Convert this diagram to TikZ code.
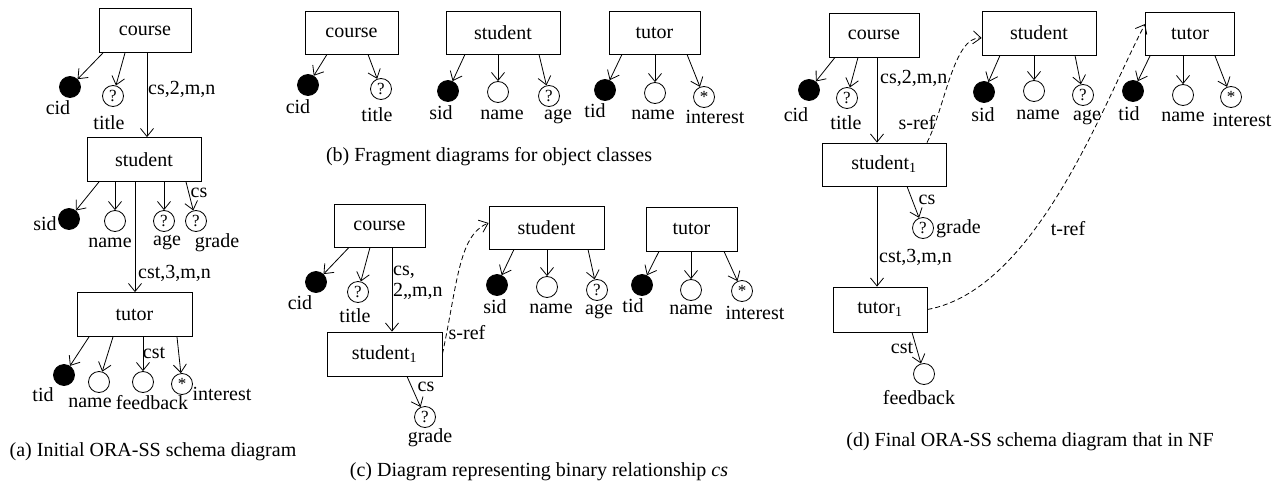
\documentclass[tikz,border=0pt]{standalone}
\usepackage{fontspec}
\setmainfont{Liberation Serif}
\usetikzlibrary{arrows.meta}
\newcommand\fs{\fontsize{20}{21}\selectfont}
\tikzset{
  every node/.style={font=\fs},
  cls/.style={draw, line width=0.8pt, minimum height=44pt, inner sep=0pt},
  att/.style={circle, draw, line width=0.8pt, minimum size=21pt, inner sep=0pt, font=\fontsize{17}{17}\selectfont},
  key/.style={att, fill=black},
  lbl/.style={inner sep=0pt},
  arr/.style={line width=0.8pt, -{Straight Barb[length=8pt,width=13pt]}},
  refarr/.style={line width=0.8pt, dashed, dash pattern=on 5pt off 3pt, -{Straight Barb[length=8pt,width=13pt]}},
}
\newcommand\st{\raisebox{-5pt}{*}}
\begin{document}
\begin{tikzpicture}[x=1pt,y=-1pt]
\useasboundingbox (0,0) rectangle (1284,487);
% ---------------- (a)
\node[cls, minimum width=92pt] (courseA) at (145,30.5) {course};
\node[key] (cidA) at (70,87) {};
\node[att] (titleA) at (113,96) {?};
\node[lbl] (cidAl) at (58,108) {cid};
\node[lbl] (titleAl) at (109,123) {title};
\node[cls, minimum width=114pt] (studentA) at (144,159.5) {student};
\node[lbl, anchor=west] (csA) at (148,89) {cs,2,m,n};
\draw[arr] ([xshift=-42pt]courseA.south) -- (cidA);
\draw[arr] ([xshift=-20pt]courseA.south) -- (titleA);
\draw[arr] ([xshift=2pt]courseA.south) -- ([xshift=3pt]studentA.north);
\node[key] (sidA) at (69,219) {};
\node[att] (nameA) at (115,221) {};
\node[att] (ageA) at (164,221) {?};
\node[att] (gradeA) at (196,221) {?};
\node[lbl] (sidAl) at (45,224) {sid};
\node[lbl] (nameAl) at (110,243) {name};
\node[lbl] (ageAl) at (167,243) {age};
\node[lbl] (gradeAl) at (217,243) {grade};
\node[lbl] (csA2) at (199,193) {cs};
\draw[arr] ([xshift=-45pt]studentA.south) -- (sidA);
\draw[arr] ([xshift=-29pt]studentA.south) -- (nameA);
\draw[arr] ([xshift=20pt]studentA.south) -- (ageA);
\draw[arr] ([xshift=42pt]studentA.south) -- (gradeA);
\node[cls, minimum width=115pt] (tutorA) at (134.5,314.5) {tutor};
\node[lbl, anchor=west] (cstA) at (138,273) {cst,3,m,n};
\draw[arr] ([xshift=-9pt]studentA.south) -- ([xshift=0.5pt]tutorA.north);
\node[key] (tidA) at (64,375) {};
\node[att] (nameA2) at (99,382) {};
\node[att] (fbA) at (143,382) {};
\node[att] (intA) at (182,384) {\st};
\node[lbl] (tidAl) at (43,395) {tid};
\node[lbl] (nameA2l) at (90,403) {name};
\node[lbl] (fbAl) at (152,403) {feedback};
\node[lbl] (intAl) at (222,394) {interest};
\node[lbl] (cstA2) at (154,353) {cst};
\draw[arr] ([xshift=-45.5pt]tutorA.south) -- (tidA);
\draw[arr] ([xshift=-21.5pt]tutorA.south) -- (nameA2);
\draw[arr] ([xshift=8.5pt]tutorA.south) -- (fbA);
\draw[arr] ([xshift=42.5pt]tutorA.south) -- (intA);
\node[lbl] (capA) at (153,452) {(a) Initial ORA-SS schema diagram};
% ---------------- (b)
\node[cls, minimum width=93pt, minimum height=43pt] (courseB) at (351.5,32.5) {course};
\node[key] (cidB) at (308,85) {};
\node[att] (titleB) at (381,89) {?};
\node[lbl] (cidBl) at (298,107) {cid};
\node[lbl] (titleBl) at (377,115) {title};
\draw[arr] ([xshift=-24.5pt]courseB.south) -- (cidB);
\draw[arr] ([xshift=16.5pt]courseB.south) -- (titleB);
\node[cls, minimum width=114pt, minimum height=43pt] (studentB) at (503,32.5) {student};
\node[key] (sidB) at (448,91) {};
\node[att] (nameB) at (498,92) {};
\node[att] (ageB) at (549,96) {?};
\node[lbl] (sidBl) at (441,113) {sid};
\node[lbl] (nameBl) at (502,115) {name};
\node[lbl] (ageBl) at (558,117) {age};
\draw[arr] ([xshift=-38pt]studentB.south) -- (sidB);
\draw[arr] ([xshift=-5pt]studentB.south) -- (nameB);
\draw[arr] ([xshift=36pt]studentB.south) -- (ageB);
\node[cls, minimum width=91pt, minimum height=43pt] (tutorB) at (654.5,32.5) {tutor};
\node[key] (tidB) at (605,90) {};
\node[att] (nameB2) at (655,93) {};
\node[att] (intB) at (704,97) {\st};
\node[lbl] (tidBl) at (595,111) {tid};
\node[lbl] (nameB2l) at (653,115) {name};
\node[lbl] (intBl) at (715,117) {interest};
\draw[arr] ([xshift=-32.5pt]tutorB.south) -- (tidB);
\draw[arr] ([xshift=0.5pt]tutorB.south) -- (nameB2);
\draw[arr] ([xshift=32.5pt]tutorB.south) -- (intB);
\node[lbl] (capB) at (489,157) {(b) Fragment diagrams for object classes};
% ---------------- (c)
\node[cls, minimum width=91pt, minimum height=43pt] (courseC) at (379.5,225.5) {course};
\node[key] (cidC) at (316,282) {};
\node[att] (titleC) at (358,292) {?};
\node[lbl] (cidCl) at (300,303) {cid};
\node[lbl] (titleCl) at (355,316) {title};
\draw[arr] ([xshift=-30.5pt]courseC.south) -- (cidC);
\draw[arr] ([xshift=-9.5pt]courseC.south) -- (titleC);
\node[cls, minimum width=115pt] (s1C) at (384.5,354) {student\textsubscript{1}};
\node[lbl, anchor=west, align=left] (csC) at (393,283) {cs,\\2,,m,n};
\draw[arr] ([xshift=12.5pt]courseC.south) -- ([xshift=7.5pt]s1C.north);
\node[att] (gradeC) at (425,417) {?};
\node[lbl] (csC2) at (426,387) {cs};
\node[lbl] (gradeCl) at (430,438) {grade};
\draw[arr] ([xshift=22.5pt]s1C.south) -- (gradeC);
\node[cls, minimum width=115pt, minimum height=43pt] (studentC) at (546.5,227.5) {student};
\draw[refarr] (s1C.east) .. controls +(15,-70) and +(-30,12) .. ([yshift=4.5pt]studentC.west);
\node[lbl] (srefC) at (467,333) {s-ref};
\node[key] (sidC) at (497,285) {};
\node[att] (nameC) at (547,287) {};
\node[att] (ageC) at (597,290) {?};
\node[lbl] (sidCl) at (495,307) {sid};
\node[lbl] (nameCl) at (551,309) {name};
\node[lbl] (ageCl) at (599,312) {age};
\draw[arr] ([xshift=-32.5pt]studentC.south) -- (sidC);
\draw[arr] ([xshift=0.5pt]studentC.south) -- (nameC);
\draw[arr] ([xshift=41.5pt]studentC.south) -- (ageC);
\node[cls, minimum width=91pt] (tutorC) at (691.5,229) {tutor};
\node[key] (tidC) at (642,285) {};
\node[att] (nameC2) at (691,290) {};
\node[att] (intC) at (742,291) {\st};
\node[lbl] (tidCl) at (633,306) {tid};
\node[lbl] (nameC2l) at (691,310) {name};
\node[lbl] (intCl) at (755,313) {interest};
\draw[arr] ([xshift=-32.5pt]tutorC.south) -- (tidC);
\draw[arr] ([xshift=-0.5pt]tutorC.south) -- (nameC2);
\draw[arr] ([xshift=32.5pt]tutorC.south) -- (intC);
\node[lbl] (capC) at (539,472) {(c) Diagram representing binary relationship \textit{cs}};
% ---------------- (d)
\node[cls, minimum width=90pt] (courseD) at (874,35) {course};
\node[key] (cidD) at (809,90) {};
\node[att] (titleD) at (847,98) {?};
\node[lbl] (cidDl) at (796,115) {cid};
\node[lbl] (titleDl) at (846,123) {title};
\draw[arr] ([xshift=-39pt]courseD.south) -- (cidD);
\draw[arr] ([xshift=-16pt]courseD.south) -- (titleD);
\node[cls, minimum width=124pt, minimum height=43pt] (s1D) at (884,164.5) {student\textsubscript{1}};
\node[lbl, anchor=west] (csD) at (880,78) {cs,2,m,n};
\draw[arr] ([xshift=3pt]courseD.south) -- ([xshift=-7pt]s1D.north);
\node[att] (gradeD) at (923,228) {?};
\node[lbl] (csD2) at (927,200) {cs};
\node[lbl, anchor=west] (gradeDl) at (936,229) {grade};
\draw[arr] ([xshift=23pt]s1D.south) -- (gradeD);
\node[cls, minimum width=94pt, minimum height=45pt] (t1D) at (880,309.5) {tutor\textsubscript{1}};
\node[lbl, anchor=west] (cstD) at (879,257) {cst,3,m,n};
\draw[arr] ([xshift=-7pt]s1D.south) -- ([xshift=-3pt]t1D.north);
\node[att] (fbD) at (924,374) {};
\node[lbl] (cstD2) at (902,348) {cst};
\node[lbl] (fbDl) at (919,398) {feedback};
\draw[arr] ([xshift=32pt]t1D.south) -- (fbD);
\node[cls, minimum width=114pt] (studentD) at (1039,33) {student};
\node[key] (sidD) at (984,92) {};
\node[att] (nameD) at (1034,91) {};
\node[att] (ageD) at (1083,95) {?};
\node[lbl] (sidDl) at (983,115) {sid};
\node[lbl] (nameDl) at (1038,115) {name};
\node[lbl] (ageDl) at (1087,118) {age};
\draw[arr] ([xshift=-39pt]studentD.south) -- (sidD);
\draw[arr] ([xshift=-5pt]studentD.south) -- (nameD);
\draw[arr] ([xshift=36pt]studentD.south) -- (ageD);
\node[cls, minimum width=89pt, minimum height=43pt] (tutorD) at (1190,34) {tutor};
\node[key] (tidD) at (1133,91) {};
\node[att] (nameD2) at (1183,95) {};
\node[att] (intD) at (1231,97) {\st};
\node[lbl] (tidDl) at (1129,114) {tid};
\node[lbl] (nameD2l) at (1183,117) {name};
\node[lbl] (intDl) at (1242,120) {interest};
\draw[arr] ([xshift=-40pt]tutorD.south) -- (tidD);
\draw[arr] ([xshift=-7pt]tutorD.south) -- (nameD2);
\draw[arr] ([xshift=25pt]tutorD.south) -- (intD);
\draw[refarr] ([xshift=43pt]s1D.north) .. controls +(18,-35) and +(-28,-2) .. ([yshift=-5pt]studentD.west);
\node[lbl] (srefD) at (917,123) {s-ref};
\draw[refarr] (t1D.east) .. controls +(110,-20) and +(-40,75) .. ([yshift=10pt]tutorD.west);
\node[lbl] (trefD) at (1068,229) {t-ref};
\node[lbl] (capD) at (1030,442) {(d) Final ORA-SS schema diagram that in NF};
\end{tikzpicture}
\end{document}
